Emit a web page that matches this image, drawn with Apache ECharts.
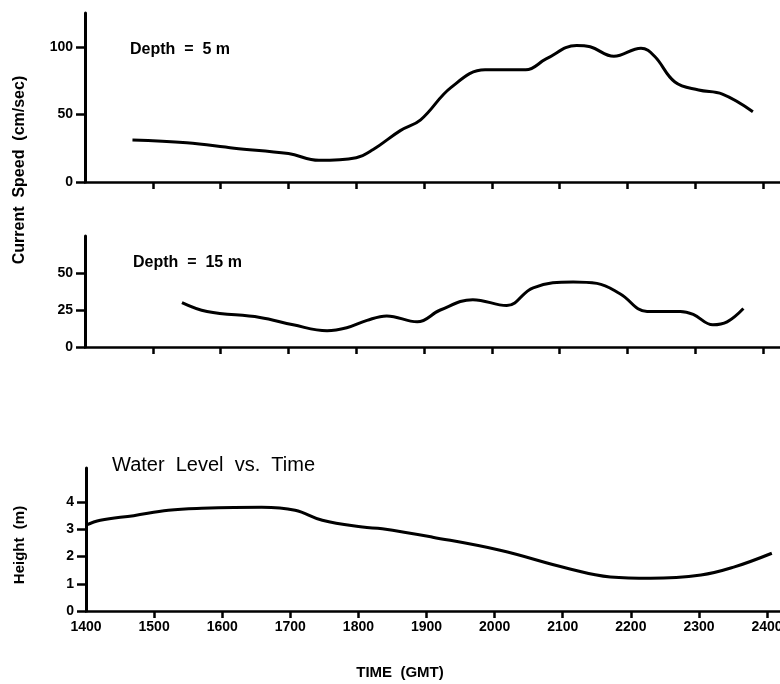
<!DOCTYPE html>
<html>
<head>
<meta charset="utf-8">
<script src="https://cdn.jsdelivr.net/npm/echarts@6/dist/echarts.min.js"></script>
<style>
  html, body { margin: 0; padding: 0; background: #fff; }
  #chart { width: 780px; height: 684px; }
</style>
</head>
<body>
<div id="chart"></div>
<script>
// time of day (GMT, hhmm read as a plain number)
const timeTicks = [1500, 1600, 1700, 1800, 1900, 2000, 2100, 2200, 2300, 2400]
const timeLabels = [1400, 1500, 1600, 1700, 1800, 1900, 2000, 2100, 2200, 2300, 2400]

// current speed (cm/sec) at 5 m
const speed5m = [
  [1470, 31], [1550, 29], [1620, 25], [1700, 21], [1745, 16], [1800, 18],
  [1825, 24], [1865, 38], [1895, 46], [1940, 70], [1990, 83], [2050, 83],
  [2080, 91], [2125, 101], [2145, 100], [2180, 93], [2220, 99], [2240, 93],
  [2270, 74], [2305, 68], [2340, 65], [2385, 52]
]
// current speed (cm/sec) at 15 m
const speed15m = [
  [1543, 30], [1580, 24], [1658, 20], [1707, 15], [1757, 11], [1786, 13],
  [1816, 18], [1845, 21], [1890, 17], [1924, 25], [1972, 32], [2022, 28],
  [2061, 40], [2120, 44], [2155, 43], [2189, 36], [2229, 24], [2278, 24],
  [2297, 22], [2326, 15], [2347, 17], [2371, 26]
]
// water level height (m)
const waterLevel = [
  [1400, 3.15], [1421, 3.33], [1470, 3.5], [1521, 3.7], [1570, 3.77],
  [1658, 3.81], [1707, 3.7], [1747, 3.33], [1806, 3.08], [1835, 3.02],
  [1909, 2.71], [2008, 2.23], [2105, 1.58], [2170, 1.25], [2229, 1.2],
  [2303, 1.32], [2351, 1.61], [2407, 2.12]
]

const speed5mTicks = [0, 50, 100]
const speed15mTicks = [0, 25, 50]
const heightTicks = [0, 1, 2, 3, 4]

const FONT = 'Liberation Sans'

function xAxis (gridIndex, max, showLabel) {
  return {
    type: 'value',
    gridIndex: gridIndex,
    min: 1400,
    max: max,
    interval: 100,
    splitLine: { show: false },
    axisLine: { lineStyle: { color: '#000', width: 2.5 } },
    axisTick: { customValues: timeTicks, length: 7, lineStyle: { color: '#000', width: 2.5 } },
    axisLabel: {
      show: showLabel,
      customValues: timeLabels,
      formatter: v => String(v),
      color: '#000',
      fontFamily: FONT,
      fontWeight: 'bold',
      fontSize: 14,
      margin: 9
    }
  }
}

function yAxis (gridIndex, max, ticks) {
  return {
    type: 'value',
    gridIndex: gridIndex,
    min: 0,
    max: max,
    splitLine: { show: false },
    axisLine: { lineStyle: { color: '#000', width: 3 } },
    axisTick: { customValues: ticks, length: 9, lineStyle: { color: '#000', width: 2.5 } },
    axisLabel: {
      customValues: ticks,
      formatter: v => String(v),
      color: '#000',
      fontFamily: FONT,
      fontWeight: 'bold',
      fontSize: 14,
      margin: 12
    }
  }
}

function curve (index, data) {
  return {
    type: 'line',
    xAxisIndex: index,
    yAxisIndex: index,
    data: data,
    smooth: 0.4,
    showSymbol: false,
    lineStyle: { color: '#000', width: 3 },
    silent: true
  }
}

const chart = echarts.init(document.getElementById('chart'))
chart.setOption({
  backgroundColor: '#fff',
  animation: false,
  grid: [
    { left: 85, top: 13, width: 695, height: 169, outerBoundsMode: 'none' },
    { left: 85, top: 236, width: 695, height: 111, outerBoundsMode: 'none' },
    { left: 86, top: 468, width: 694, height: 143, outerBoundsMode: 'none' }
  ],
  xAxis: [xAxis(0, 2425, false), xAxis(1, 2425, false), xAxis(2, 2419, true)],
  yAxis: [yAxis(0, 125, speed5mTicks), yAxis(1, 75, speed15mTicks), yAxis(2, 5.25, heightTicks)],
  series: [curve(0, speed5m), curve(1, speed15m), curve(2, waterLevel)],
  graphic: [
    {
      type: 'text', x: 130, y: 50,
      style: { text: 'Depth  =  5 m', fill: '#000', font: 'bold 16px ' + FONT, verticalAlign: 'middle' }
    },
    {
      type: 'text', x: 133, y: 263,
      style: { text: 'Depth  =  15 m', fill: '#000', font: 'bold 16px ' + FONT, verticalAlign: 'middle' }
    },
    {
      type: 'text', x: 112, y: 465,
      style: { text: 'Water  Level  vs.  Time', fill: '#000', font: '20px ' + FONT, verticalAlign: 'middle' }
    },
    {
      type: 'text', x: 20, y: 170, rotation: Math.PI / 2,
      style: { text: 'Current  Speed  (cm/sec)', fill: '#000', font: 'bold 16px ' + FONT, align: 'center', verticalAlign: 'middle' }
    },
    {
      type: 'text', x: 20, y: 545, rotation: Math.PI / 2,
      style: { text: 'Height  (m)', fill: '#000', font: 'bold 15px ' + FONT, align: 'center', verticalAlign: 'middle' }
    },
    {
      type: 'text', x: 400, y: 673,
      style: { text: 'TIME  (GMT)', fill: '#000', font: 'bold 15px ' + FONT, align: 'center', verticalAlign: 'middle' }
    }
  ]
})
</script>
</body>
</html>
